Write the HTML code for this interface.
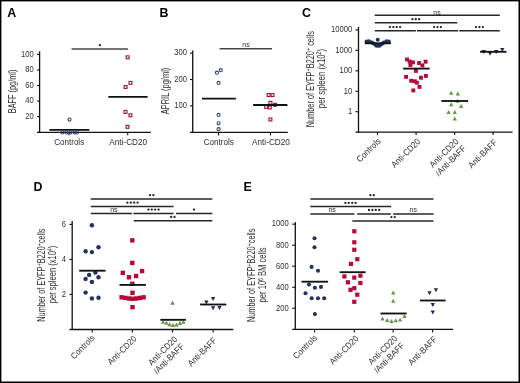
<!DOCTYPE html>
<html><head><meta charset="utf-8"><title>Figure</title>
<style>
html,body{margin:0;padding:0;background:#fff;}
svg{display:block;will-change:transform;}
text{font-family:"Liberation Sans",sans-serif;}
</style></head>
<body>
<svg width="520" height="383" viewBox="0 0 520 383">
<rect x="0" y="0" width="520" height="383" fill="#000"/>
<rect x="1.4" y="1.4" width="517.1" height="380.1" fill="#fff"/>
<text x="7.2" y="16.8" font-size="12.4" text-anchor="start" fill="#000" font-weight="bold">A</text>
<text x="159.6" y="16.7" font-size="12.4" text-anchor="start" fill="#000" font-weight="bold">B</text>
<text x="302.0" y="16.7" font-size="12.4" text-anchor="start" fill="#000" font-weight="bold">C</text>
<text x="33.5" y="191.1" font-size="12.4" text-anchor="start" fill="#000" font-weight="bold">D</text>
<text x="243.4" y="191.1" font-size="12.4" text-anchor="start" fill="#000" font-weight="bold">E</text>
<line x1="39.6" y1="51.3" x2="39.6" y2="132.9" stroke="#111" stroke-width="1.3"/>
<line x1="37.0" y1="132.3" x2="150.8" y2="132.3" stroke="#111" stroke-width="1.3"/>
<line x1="37.0" y1="116.65" x2="39.6" y2="116.65" stroke="#111" stroke-width="1.1"/>
<text x="33.8" y="118.95" font-size="8.6" text-anchor="end" fill="#303030" font-weight="normal" textLength="8.50" lengthAdjust="spacingAndGlyphs">20</text>
<line x1="37.0" y1="101.10" x2="39.6" y2="101.10" stroke="#111" stroke-width="1.1"/>
<text x="33.8" y="103.40" font-size="8.6" text-anchor="end" fill="#303030" font-weight="normal" textLength="8.50" lengthAdjust="spacingAndGlyphs">40</text>
<line x1="37.0" y1="85.54" x2="39.6" y2="85.54" stroke="#111" stroke-width="1.1"/>
<text x="33.8" y="87.84" font-size="8.6" text-anchor="end" fill="#303030" font-weight="normal" textLength="8.50" lengthAdjust="spacingAndGlyphs">60</text>
<line x1="37.0" y1="69.99" x2="39.6" y2="69.99" stroke="#111" stroke-width="1.1"/>
<text x="33.8" y="72.29" font-size="8.6" text-anchor="end" fill="#303030" font-weight="normal" textLength="8.50" lengthAdjust="spacingAndGlyphs">80</text>
<line x1="37.0" y1="54.44" x2="39.6" y2="54.44" stroke="#111" stroke-width="1.1"/>
<text x="33.8" y="56.74" font-size="8.6" text-anchor="end" fill="#303030" font-weight="normal" textLength="12.75" lengthAdjust="spacingAndGlyphs">100</text>
<line x1="68.9" y1="132.3" x2="68.9" y2="135.3" stroke="#111" stroke-width="1.1"/>
<line x1="127.7" y1="132.3" x2="127.7" y2="135.3" stroke="#111" stroke-width="1.1"/>
<text transform="translate(15.6,91.4) rotate(-90)" x="0" y="0" font-size="10.2" text-anchor="middle" fill="#2e2e2e" textLength="43.5" lengthAdjust="spacingAndGlyphs">BAFF (pg/ml)</text>
<text x="69.2" y="144.9" font-size="8.8" text-anchor="middle" fill="#2e2e2e" font-weight="normal" textLength="30" lengthAdjust="spacingAndGlyphs">Controls</text>
<text x="128.2" y="145.1" font-size="8.8" text-anchor="middle" fill="#2e2e2e" font-weight="normal" textLength="37.9" lengthAdjust="spacingAndGlyphs">Anti-CD20</text>
<line x1="71.6" y1="49.1" x2="128.0" y2="49.1" stroke="#484848" stroke-width="1.5"/>
<circle cx="99.90" cy="45.2" r="1.15" fill="#222"/>
<line x1="49.4" y1="129.8" x2="89.4" y2="129.8" stroke="#111" stroke-width="1.85"/>
<line x1="108.3" y1="96.8" x2="147.6" y2="96.8" stroke="#111" stroke-width="1.85"/>
<circle cx="69.5" cy="119.6" r="1.55" fill="none" stroke="#2a4170" stroke-width="1.05"/>
<circle cx="62.3" cy="132.4" r="1.55" fill="none" stroke="#2a4170" stroke-width="1.05"/>
<circle cx="66.4" cy="132.4" r="1.55" fill="none" stroke="#2a4170" stroke-width="1.05"/>
<circle cx="70.5" cy="132.4" r="1.55" fill="none" stroke="#2a4170" stroke-width="1.05"/>
<circle cx="74.6" cy="132.4" r="1.55" fill="none" stroke="#2a4170" stroke-width="1.05"/>
<circle cx="77.0" cy="132.4" r="1.55" fill="none" stroke="#2a4170" stroke-width="1.05"/>
<rect x="126.15" y="55.85" width="2.9" height="2.9" fill="none" stroke="#951847" stroke-width="1.15"/>
<rect x="129.05" y="81.45" width="2.9" height="2.9" fill="none" stroke="#951847" stroke-width="1.15"/>
<rect x="124.15" y="85.55" width="2.9" height="2.9" fill="none" stroke="#951847" stroke-width="1.15"/>
<rect x="124.05" y="110.45" width="2.9" height="2.9" fill="none" stroke="#951847" stroke-width="1.15"/>
<rect x="128.95" y="113.85" width="2.9" height="2.9" fill="none" stroke="#951847" stroke-width="1.15"/>
<rect x="126.05" y="125.35" width="2.9" height="2.9" fill="none" stroke="#951847" stroke-width="1.15"/>
<line x1="192.7" y1="50.4" x2="192.7" y2="133.0" stroke="#111" stroke-width="1.3"/>
<line x1="190.0" y1="132.4" x2="287.8" y2="132.4" stroke="#111" stroke-width="1.3"/>
<line x1="190.0" y1="105.85" x2="192.7" y2="105.85" stroke="#111" stroke-width="1.1"/>
<text x="187.0" y="108.15" font-size="8.6" text-anchor="end" fill="#303030" font-weight="normal" textLength="12.75" lengthAdjust="spacingAndGlyphs">100</text>
<line x1="190.0" y1="79.50" x2="192.7" y2="79.50" stroke="#111" stroke-width="1.1"/>
<text x="187.0" y="81.80" font-size="8.6" text-anchor="end" fill="#303030" font-weight="normal" textLength="12.75" lengthAdjust="spacingAndGlyphs">200</text>
<line x1="190.0" y1="53.15" x2="192.7" y2="53.15" stroke="#111" stroke-width="1.1"/>
<text x="187.0" y="55.45" font-size="8.6" text-anchor="end" fill="#303030" font-weight="normal" textLength="12.75" lengthAdjust="spacingAndGlyphs">300</text>
<line x1="218.6" y1="132.4" x2="218.6" y2="135.4" stroke="#111" stroke-width="1.1"/>
<line x1="270.5" y1="132.4" x2="270.5" y2="135.4" stroke="#111" stroke-width="1.1"/>
<text transform="translate(169.0,91.0) rotate(-90)" x="0" y="0" font-size="10.2" text-anchor="middle" fill="#2e2e2e" textLength="46.6" lengthAdjust="spacingAndGlyphs">APRIL (pg/ml)</text>
<text x="218.8" y="144.7" font-size="8.8" text-anchor="middle" fill="#2e2e2e" font-weight="normal" textLength="30" lengthAdjust="spacingAndGlyphs">Controls</text>
<text x="271.0" y="144.9" font-size="8.8" text-anchor="middle" fill="#2e2e2e" font-weight="normal" textLength="37.9" lengthAdjust="spacingAndGlyphs">Anti-CD20</text>
<line x1="219.5" y1="48.8" x2="272.0" y2="48.8" stroke="#484848" stroke-width="1.5"/>
<text x="246.0" y="46.6" font-size="7" text-anchor="middle" fill="#2e2e2e" font-weight="normal">ns</text>
<circle cx="216.9" cy="72.7" r="1.55" fill="none" stroke="#2a4170" stroke-width="1.05"/>
<circle cx="220.8" cy="70.2" r="1.55" fill="none" stroke="#2a4170" stroke-width="1.05"/>
<circle cx="218.6" cy="82.9" r="1.55" fill="none" stroke="#2a4170" stroke-width="1.05"/>
<circle cx="218.6" cy="114.9" r="1.55" fill="none" stroke="#2a4170" stroke-width="1.05"/>
<circle cx="218.6" cy="123.3" r="1.55" fill="none" stroke="#2a4170" stroke-width="1.05"/>
<circle cx="218.6" cy="129.2" r="1.55" fill="none" stroke="#2a4170" stroke-width="1.05"/>
<rect x="267.15" y="93.65" width="2.9" height="2.9" fill="none" stroke="#951847" stroke-width="1.15"/>
<rect x="271.05" y="93.65" width="2.9" height="2.9" fill="none" stroke="#951847" stroke-width="1.15"/>
<rect x="268.95" y="101.35" width="2.9" height="2.9" fill="none" stroke="#951847" stroke-width="1.15"/>
<rect x="273.55" y="103.35" width="2.9" height="2.9" fill="none" stroke="#951847" stroke-width="1.15"/>
<rect x="264.75" y="105.45" width="2.9" height="2.9" fill="none" stroke="#951847" stroke-width="1.15"/>
<rect x="268.35" y="106.05" width="2.9" height="2.9" fill="none" stroke="#951847" stroke-width="1.15"/>
<rect x="268.95" y="118.05" width="2.9" height="2.9" fill="none" stroke="#951847" stroke-width="1.15"/>
<line x1="202.0" y1="98.6" x2="235.9" y2="98.6" stroke="#111" stroke-width="1.85"/>
<line x1="253.1" y1="105.0" x2="287.4" y2="105.0" stroke="#111" stroke-width="1.85"/>
<line x1="358.5" y1="26.8" x2="358.5" y2="132.7" stroke="#111" stroke-width="1.3"/>
<line x1="355.5" y1="132.1" x2="512.6" y2="132.1" stroke="#111" stroke-width="1.3"/>
<line x1="355.4" y1="111.7" x2="358.5" y2="111.7" stroke="#111" stroke-width="1.1"/>
<text x="352.2" y="114.0" font-size="8.6" text-anchor="end" fill="#303030" font-weight="normal" textLength="4.25" lengthAdjust="spacingAndGlyphs">1</text>
<line x1="355.4" y1="91.25" x2="358.5" y2="91.25" stroke="#111" stroke-width="1.1"/>
<text x="352.2" y="93.55" font-size="8.6" text-anchor="end" fill="#303030" font-weight="normal" textLength="8.50" lengthAdjust="spacingAndGlyphs">10</text>
<line x1="355.4" y1="70.80" x2="358.5" y2="70.80" stroke="#111" stroke-width="1.1"/>
<text x="352.2" y="73.10" font-size="8.6" text-anchor="end" fill="#303030" font-weight="normal" textLength="12.75" lengthAdjust="spacingAndGlyphs">100</text>
<line x1="355.4" y1="50.35" x2="358.5" y2="50.35" stroke="#111" stroke-width="1.1"/>
<text x="352.2" y="52.65" font-size="8.6" text-anchor="end" fill="#303030" font-weight="normal" textLength="17.00" lengthAdjust="spacingAndGlyphs">1000</text>
<line x1="355.4" y1="29.90" x2="358.5" y2="29.90" stroke="#111" stroke-width="1.1"/>
<text x="352.2" y="32.2" font-size="8.6" text-anchor="end" fill="#303030" font-weight="normal" textLength="21.25" lengthAdjust="spacingAndGlyphs">10000</text>
<line x1="377.5" y1="132.1" x2="377.5" y2="135.1" stroke="#111" stroke-width="1.1"/>
<line x1="416.1" y1="132.1" x2="416.1" y2="135.1" stroke="#111" stroke-width="1.1"/>
<line x1="454.6" y1="132.1" x2="454.6" y2="135.1" stroke="#111" stroke-width="1.1"/>
<line x1="493.1" y1="132.1" x2="493.1" y2="135.1" stroke="#111" stroke-width="1.1"/>
<text transform="translate(313.6,79.2) rotate(-90)" x="0" y="0" font-size="10" text-anchor="middle" fill="#2e2e2e" textLength="96.3" lengthAdjust="spacingAndGlyphs">Number of EYFP<tspan font-size="7.5" dy="-3.0">+</tspan><tspan dy="3.0">B220</tspan><tspan font-size="7.5" dy="-3.0">+</tspan><tspan dy="3.0"> cells</tspan></text>
<text transform="translate(324.6,78.6) rotate(-90)" x="0" y="0" font-size="10" text-anchor="middle" fill="#2e2e2e" textLength="59.2" lengthAdjust="spacingAndGlyphs">per spleen (x10<tspan font-size="6.5" dy="-3.3">2</tspan><tspan dy="3.3">)</tspan></text>
<line x1="374.7" y1="15.2" x2="499.8" y2="15.2" stroke="#262626" stroke-width="1.5"/>
<text x="437.0" y="14.5" font-size="7" text-anchor="middle" fill="#2e2e2e" font-weight="normal">ns</text>
<line x1="374.7" y1="22.8" x2="457.3" y2="22.8" stroke="#262626" stroke-width="1.5"/>
<circle cx="412.40" cy="19.2" r="1.15" fill="#222"/>
<circle cx="415.80" cy="19.2" r="1.15" fill="#222"/>
<circle cx="419.20" cy="19.2" r="1.15" fill="#222"/>
<line x1="374.7" y1="30.7" x2="415.9" y2="30.7" stroke="#262626" stroke-width="1.5"/>
<line x1="416.9" y1="30.7" x2="458.0" y2="30.7" stroke="#262626" stroke-width="1.5"/>
<line x1="459.2" y1="30.7" x2="499.8" y2="30.7" stroke="#262626" stroke-width="1.5"/>
<circle cx="389.90" cy="27.1" r="1.15" fill="#222"/>
<circle cx="393.30" cy="27.1" r="1.15" fill="#222"/>
<circle cx="396.70" cy="27.1" r="1.15" fill="#222"/>
<circle cx="400.10" cy="27.1" r="1.15" fill="#222"/>
<circle cx="434.10" cy="27.1" r="1.15" fill="#222"/>
<circle cx="437.50" cy="27.1" r="1.15" fill="#222"/>
<circle cx="440.90" cy="27.1" r="1.15" fill="#222"/>
<circle cx="476.00" cy="27.1" r="1.15" fill="#222"/>
<circle cx="479.40" cy="27.1" r="1.15" fill="#222"/>
<circle cx="482.80" cy="27.1" r="1.15" fill="#222"/>
<circle cx="377.7" cy="39.7" r="2.0" fill="#22325a"/>
<circle cx="366.6" cy="41.4" r="2.0" fill="#22325a"/>
<circle cx="368.8" cy="41.2" r="2.0" fill="#22325a"/>
<circle cx="371.2" cy="42.2" r="2.0" fill="#22325a"/>
<circle cx="373.2" cy="43.2" r="2.0" fill="#22325a"/>
<circle cx="384.0" cy="42.4" r="2.0" fill="#22325a"/>
<circle cx="386.4" cy="41.3" r="2.0" fill="#22325a"/>
<circle cx="388.8" cy="41.4" r="2.0" fill="#22325a"/>
<circle cx="375.0" cy="44.4" r="2.0" fill="#22325a"/>
<circle cx="378.0" cy="45.4" r="2.0" fill="#22325a"/>
<circle cx="381.0" cy="44.4" r="2.0" fill="#22325a"/>
<circle cx="376.5" cy="45.7" r="2.0" fill="#22325a"/>
<circle cx="379.5" cy="45.7" r="2.0" fill="#22325a"/>
<circle cx="382.6" cy="43.4" r="2.0" fill="#22325a"/>
<line x1="364.8" y1="43.3" x2="390.9" y2="43.3" stroke="#111" stroke-width="1.85"/>
<rect x="405.05" y="57.55" width="3.9" height="3.9" fill="#b50a37"/>
<rect x="407.65" y="59.55" width="3.9" height="3.9" fill="#b50a37"/>
<rect x="411.05" y="60.45" width="3.9" height="3.9" fill="#b50a37"/>
<rect x="408.45" y="63.05" width="3.9" height="3.9" fill="#b50a37"/>
<rect x="417.15" y="61.05" width="3.9" height="3.9" fill="#b50a37"/>
<rect x="420.45" y="63.45" width="3.9" height="3.9" fill="#b50a37"/>
<rect x="423.65" y="59.75" width="3.9" height="3.9" fill="#b50a37"/>
<rect x="413.95" y="68.95" width="3.9" height="3.9" fill="#b50a37"/>
<rect x="404.15" y="74.95" width="3.9" height="3.9" fill="#b50a37"/>
<rect x="409.25" y="78.85" width="3.9" height="3.9" fill="#b50a37"/>
<rect x="412.95" y="79.35" width="3.9" height="3.9" fill="#b50a37"/>
<rect x="419.05" y="75.75" width="3.9" height="3.9" fill="#b50a37"/>
<rect x="423.95" y="73.95" width="3.9" height="3.9" fill="#b50a37"/>
<rect x="414.95" y="80.75" width="3.9" height="3.9" fill="#b50a37"/>
<rect x="417.55" y="84.95" width="3.9" height="3.9" fill="#b50a37"/>
<rect x="411.35" y="88.45" width="3.9" height="3.9" fill="#b50a37"/>
<line x1="403.1" y1="68.6" x2="429.6" y2="68.6" stroke="#111" stroke-width="1.85"/>
<polygon points="449.05,94.80 453.35,94.80 451.20,90.80" fill="#66964a"/>
<polygon points="455.65,95.40 459.95,95.40 457.80,91.40" fill="#66964a"/>
<polygon points="455.35,102.70 459.65,102.70 457.50,98.70" fill="#66964a"/>
<polygon points="449.05,106.30 453.35,106.30 451.20,102.30" fill="#66964a"/>
<polygon points="458.95,107.90 463.25,107.90 461.10,103.90" fill="#66964a"/>
<polygon points="446.45,113.90 450.75,113.90 448.60,109.90" fill="#66964a"/>
<polygon points="452.65,113.90 456.95,113.90 454.80,109.90" fill="#66964a"/>
<polygon points="452.65,120.40 456.95,120.40 454.80,116.40" fill="#66964a"/>
<line x1="441.3" y1="101.0" x2="468.2" y2="101.0" stroke="#111" stroke-width="1.85"/>
<polygon points="481.65,49.90 485.95,49.90 483.80,53.90" fill="#30234a"/>
<polygon points="487.85,51.80 492.15,51.80 490.00,55.80" fill="#30234a"/>
<polygon points="494.05,49.90 498.35,49.90 496.20,53.90" fill="#30234a"/>
<polygon points="500.15,47.90 504.45,47.90 502.30,51.90" fill="#30234a"/>
<line x1="480.0" y1="51.8" x2="506.5" y2="51.8" stroke="#111" stroke-width="1.85"/>
<text transform="translate(381.30,141.60) rotate(-45)" x="0" y="0" font-size="8.8" text-anchor="end" fill="#2e2e2e" textLength="30" lengthAdjust="spacingAndGlyphs">Controls</text>
<text transform="translate(420.80,142.10) rotate(-45)" x="0" y="0" font-size="8.8" text-anchor="end" fill="#2e2e2e" textLength="36.8" lengthAdjust="spacingAndGlyphs">Anti-CD20</text>
<text transform="translate(459.10,142.10) rotate(-45)" x="0" y="0" font-size="8.8" text-anchor="end" fill="#2e2e2e" textLength="36.8" lengthAdjust="spacingAndGlyphs">Anti-CD20</text>
<text transform="translate(466.40,149.10) rotate(-45)" x="0" y="0" font-size="8.8" text-anchor="end" fill="#2e2e2e" textLength="38.6" lengthAdjust="spacingAndGlyphs">/Anti-BAFF</text>
<text transform="translate(497.60,143.10) rotate(-45)" x="0" y="0" font-size="8.8" text-anchor="end" fill="#2e2e2e" textLength="36.4" lengthAdjust="spacingAndGlyphs">Anti-BAFF</text>
<line x1="72.2" y1="221.0" x2="72.2" y2="330.1" stroke="#111" stroke-width="1.3"/>
<line x1="69.4" y1="329.5" x2="233.3" y2="329.5" stroke="#111" stroke-width="1.3"/>
<line x1="69.4" y1="294.4" x2="72.2" y2="294.4" stroke="#111" stroke-width="1.1"/>
<text x="66.0" y="296.7" font-size="8.6" text-anchor="end" fill="#303030" font-weight="normal" textLength="4.25" lengthAdjust="spacingAndGlyphs">2</text>
<line x1="69.4" y1="259.4" x2="72.2" y2="259.4" stroke="#111" stroke-width="1.1"/>
<text x="66.0" y="261.7" font-size="8.6" text-anchor="end" fill="#303030" font-weight="normal" textLength="4.25" lengthAdjust="spacingAndGlyphs">4</text>
<line x1="69.4" y1="224.40" x2="72.2" y2="224.40" stroke="#111" stroke-width="1.1"/>
<text x="66.0" y="226.7" font-size="8.6" text-anchor="end" fill="#303030" font-weight="normal" textLength="4.25" lengthAdjust="spacingAndGlyphs">6</text>
<line x1="92.2" y1="329.5" x2="92.2" y2="332.5" stroke="#111" stroke-width="1.1"/>
<line x1="132.4" y1="329.5" x2="132.4" y2="332.5" stroke="#111" stroke-width="1.1"/>
<line x1="172.5" y1="329.5" x2="172.5" y2="332.5" stroke="#111" stroke-width="1.1"/>
<line x1="213.1" y1="329.5" x2="213.1" y2="332.5" stroke="#111" stroke-width="1.1"/>
<text transform="translate(44.9,275.1) rotate(-90)" x="0" y="0" font-size="10" text-anchor="middle" fill="#2e2e2e" textLength="93.2" lengthAdjust="spacingAndGlyphs">Number of EYFP<tspan font-size="7.5" dy="-3.0">+</tspan><tspan dy="3.0">B220</tspan><tspan font-size="7.5" dy="-3.0">+</tspan><tspan dy="3.0">cells</tspan></text>
<text transform="translate(55.6,274.5) rotate(-90)" x="0" y="0" font-size="10" text-anchor="middle" fill="#2e2e2e" textLength="57.5" lengthAdjust="spacingAndGlyphs">per spleen (x10<tspan font-size="6.5" dy="-3.3">4</tspan><tspan dy="3.3">)</tspan></text>
<line x1="90.8" y1="199.0" x2="212.3" y2="199.0" stroke="#262626" stroke-width="1.5"/>
<circle cx="150.00" cy="195.2" r="1.15" fill="#222"/>
<circle cx="153.40" cy="195.2" r="1.15" fill="#222"/>
<line x1="90.8" y1="206.4" x2="173.5" y2="206.4" stroke="#262626" stroke-width="1.5"/>
<circle cx="127.40" cy="202.7" r="1.15" fill="#222"/>
<circle cx="130.80" cy="202.7" r="1.15" fill="#222"/>
<circle cx="134.20" cy="202.7" r="1.15" fill="#222"/>
<circle cx="137.60" cy="202.7" r="1.15" fill="#222"/>
<line x1="90.8" y1="213.5" x2="131.9" y2="213.5" stroke="#262626" stroke-width="1.5"/>
<text x="113.9" y="211.8" font-size="7" text-anchor="middle" fill="#2e2e2e" font-weight="normal">ns</text>
<line x1="133.3" y1="213.5" x2="173.5" y2="213.5" stroke="#262626" stroke-width="1.5"/>
<circle cx="148.40" cy="209.6" r="1.15" fill="#222"/>
<circle cx="151.80" cy="209.6" r="1.15" fill="#222"/>
<circle cx="155.20" cy="209.6" r="1.15" fill="#222"/>
<circle cx="158.60" cy="209.6" r="1.15" fill="#222"/>
<line x1="176.0" y1="213.5" x2="212.3" y2="213.5" stroke="#262626" stroke-width="1.5"/>
<circle cx="194.00" cy="209.6" r="1.15" fill="#222"/>
<line x1="133.8" y1="220.8" x2="212.3" y2="220.8" stroke="#262626" stroke-width="1.5"/>
<circle cx="171.10" cy="216.9" r="1.15" fill="#222"/>
<circle cx="174.50" cy="216.9" r="1.15" fill="#222"/>
<circle cx="91.9" cy="225.3" r="2.2" fill="#22325a"/>
<circle cx="85.6" cy="251.2" r="2.2" fill="#22325a"/>
<circle cx="91.9" cy="252.1" r="2.2" fill="#22325a"/>
<circle cx="98.5" cy="247.2" r="2.2" fill="#22325a"/>
<circle cx="95.4" cy="272.6" r="2.2" fill="#22325a"/>
<circle cx="89.1" cy="274.9" r="2.2" fill="#22325a"/>
<circle cx="85.6" cy="278.9" r="2.2" fill="#22325a"/>
<circle cx="98.5" cy="277.3" r="2.2" fill="#22325a"/>
<circle cx="91.9" cy="282.0" r="2.2" fill="#22325a"/>
<circle cx="85.6" cy="292.6" r="2.2" fill="#22325a"/>
<circle cx="91.9" cy="298.4" r="2.2" fill="#22325a"/>
<circle cx="98.5" cy="297.7" r="2.2" fill="#22325a"/>
<line x1="79.2" y1="270.7" x2="105.6" y2="270.7" stroke="#111" stroke-width="1.85"/>
<rect x="130.10" y="238.20" width="4.4" height="4.4" fill="#b50a37"/>
<rect x="130.10" y="260.70" width="4.4" height="4.4" fill="#b50a37"/>
<rect x="120.60" y="270.70" width="4.4" height="4.4" fill="#b50a37"/>
<rect x="126.80" y="275.10" width="4.4" height="4.4" fill="#b50a37"/>
<rect x="133.90" y="273.80" width="4.4" height="4.4" fill="#b50a37"/>
<rect x="139.90" y="268.90" width="4.4" height="4.4" fill="#b50a37"/>
<rect x="130.10" y="281.60" width="4.4" height="4.4" fill="#b50a37"/>
<rect x="130.30" y="290.60" width="4.4" height="4.4" fill="#b50a37"/>
<rect x="119.40" y="295.10" width="4.4" height="4.4" fill="#b50a37"/>
<rect x="123.10" y="295.70" width="4.4" height="4.4" fill="#b50a37"/>
<rect x="126.80" y="296.30" width="4.4" height="4.4" fill="#b50a37"/>
<rect x="130.40" y="296.60" width="4.4" height="4.4" fill="#b50a37"/>
<rect x="134.00" y="296.30" width="4.4" height="4.4" fill="#b50a37"/>
<rect x="137.70" y="295.70" width="4.4" height="4.4" fill="#b50a37"/>
<rect x="141.40" y="295.10" width="4.4" height="4.4" fill="#b50a37"/>
<rect x="130.30" y="305.00" width="4.4" height="4.4" fill="#b50a37"/>
<line x1="119.5" y1="284.9" x2="145.9" y2="284.9" stroke="#111" stroke-width="1.85"/>
<polygon points="170.30,304.65 174.70,304.65 172.50,300.55" fill="#66964a"/>
<polygon points="160.80,323.85 165.20,323.85 163.00,319.75" fill="#66964a"/>
<polygon points="164.30,324.85 168.70,324.85 166.50,320.75" fill="#66964a"/>
<polygon points="167.40,326.25 171.80,326.25 169.60,322.15" fill="#66964a"/>
<polygon points="170.80,327.05 175.20,327.05 173.00,322.95" fill="#66964a"/>
<polygon points="174.30,326.55 178.70,326.55 176.50,322.45" fill="#66964a"/>
<polygon points="177.80,324.95 182.20,324.95 180.00,320.85" fill="#66964a"/>
<polygon points="181.20,323.85 185.60,323.85 183.40,319.75" fill="#66964a"/>
<line x1="160.3" y1="319.8" x2="185.9" y2="319.8" stroke="#111" stroke-width="1.85"/>
<polygon points="204.25,300.40 208.55,300.40 206.40,304.40" fill="#30234a"/>
<polygon points="210.95,297.00 215.25,297.00 213.10,301.00" fill="#30234a"/>
<polygon points="210.95,306.20 215.25,306.20 213.10,310.20" fill="#30234a"/>
<polygon points="217.35,306.00 221.65,306.00 219.50,310.00" fill="#30234a"/>
<line x1="200.1" y1="304.5" x2="226.3" y2="304.5" stroke="#111" stroke-width="1.85"/>
<text transform="translate(95.40,338.50) rotate(-45)" x="0" y="0" font-size="8.8" text-anchor="end" fill="#2e2e2e" textLength="30" lengthAdjust="spacingAndGlyphs">Controls</text>
<text transform="translate(137.10,339.30) rotate(-45)" x="0" y="0" font-size="8.8" text-anchor="end" fill="#2e2e2e" textLength="36.8" lengthAdjust="spacingAndGlyphs">Anti-CD20</text>
<text transform="translate(177.80,339.90) rotate(-45)" x="0" y="0" font-size="8.8" text-anchor="end" fill="#2e2e2e" textLength="36.8" lengthAdjust="spacingAndGlyphs">Anti-CD20</text>
<text transform="translate(184.60,347.10) rotate(-45)" x="0" y="0" font-size="8.8" text-anchor="end" fill="#2e2e2e" textLength="38.6" lengthAdjust="spacingAndGlyphs">/Anti-BAFF</text>
<text transform="translate(217.10,341.10) rotate(-45)" x="0" y="0" font-size="8.8" text-anchor="end" fill="#2e2e2e" textLength="36.4" lengthAdjust="spacingAndGlyphs">Anti-BAFF</text>
<line x1="295.3" y1="222.0" x2="295.3" y2="330.0" stroke="#111" stroke-width="1.3"/>
<line x1="292.2" y1="329.4" x2="453.1" y2="329.4" stroke="#111" stroke-width="1.3"/>
<line x1="292.2" y1="308.27" x2="295.3" y2="308.27" stroke="#111" stroke-width="1.1"/>
<text x="288.8" y="310.57" font-size="8.6" text-anchor="end" fill="#303030" font-weight="normal" textLength="12.75" lengthAdjust="spacingAndGlyphs">200</text>
<line x1="292.2" y1="287.25" x2="295.3" y2="287.25" stroke="#111" stroke-width="1.1"/>
<text x="288.8" y="289.55" font-size="8.6" text-anchor="end" fill="#303030" font-weight="normal" textLength="12.75" lengthAdjust="spacingAndGlyphs">400</text>
<line x1="292.2" y1="266.22" x2="295.3" y2="266.22" stroke="#111" stroke-width="1.1"/>
<text x="288.8" y="268.52" font-size="8.6" text-anchor="end" fill="#303030" font-weight="normal" textLength="12.75" lengthAdjust="spacingAndGlyphs">600</text>
<line x1="292.2" y1="245.20" x2="295.3" y2="245.20" stroke="#111" stroke-width="1.1"/>
<text x="288.8" y="247.50" font-size="8.6" text-anchor="end" fill="#303030" font-weight="normal" textLength="12.75" lengthAdjust="spacingAndGlyphs">800</text>
<line x1="292.2" y1="224.17" x2="295.3" y2="224.17" stroke="#111" stroke-width="1.1"/>
<text x="288.8" y="226.47" font-size="8.6" text-anchor="end" fill="#303030" font-weight="normal" textLength="17.00" lengthAdjust="spacingAndGlyphs">1000</text>
<line x1="314.6" y1="329.4" x2="314.6" y2="332.4" stroke="#111" stroke-width="1.1"/>
<line x1="354.3" y1="329.4" x2="354.3" y2="332.4" stroke="#111" stroke-width="1.1"/>
<line x1="393.2" y1="329.4" x2="393.2" y2="332.4" stroke="#111" stroke-width="1.1"/>
<line x1="432.6" y1="329.4" x2="432.6" y2="332.4" stroke="#111" stroke-width="1.1"/>
<text transform="translate(255.0,275.3) rotate(-90)" x="0" y="0" font-size="10" text-anchor="middle" fill="#2e2e2e" textLength="93.4" lengthAdjust="spacingAndGlyphs">Number of EYFP<tspan font-size="7.5" dy="-3.0">+</tspan><tspan dy="3.0">B220</tspan><tspan font-size="7.5" dy="-3.0">+</tspan><tspan dy="3.0">cells</tspan></text>
<text transform="translate(266.0,274.9) rotate(-90)" x="0" y="0" font-size="10" text-anchor="middle" fill="#2e2e2e" textLength="55" lengthAdjust="spacingAndGlyphs">per 10<tspan font-size="6.5" dy="-3.3">6</tspan><tspan dy="3.3"> BM cells</tspan></text>
<line x1="310.3" y1="199.0" x2="433.5" y2="199.0" stroke="#262626" stroke-width="1.5"/>
<circle cx="370.40" cy="195.2" r="1.15" fill="#222"/>
<circle cx="373.80" cy="195.2" r="1.15" fill="#222"/>
<line x1="310.3" y1="206.6" x2="391.2" y2="206.6" stroke="#262626" stroke-width="1.5"/>
<circle cx="345.40" cy="202.9" r="1.15" fill="#222"/>
<circle cx="348.80" cy="202.9" r="1.15" fill="#222"/>
<circle cx="352.20" cy="202.9" r="1.15" fill="#222"/>
<circle cx="355.60" cy="202.9" r="1.15" fill="#222"/>
<line x1="310.3" y1="213.9" x2="354.4" y2="213.9" stroke="#262626" stroke-width="1.5"/>
<text x="332.1" y="212.0" font-size="7" text-anchor="middle" fill="#2e2e2e" font-weight="normal">ns</text>
<line x1="357.2" y1="213.9" x2="390.9" y2="213.9" stroke="#262626" stroke-width="1.5"/>
<circle cx="369.00" cy="210.0" r="1.15" fill="#222"/>
<circle cx="372.40" cy="210.0" r="1.15" fill="#222"/>
<circle cx="375.80" cy="210.0" r="1.15" fill="#222"/>
<circle cx="379.20" cy="210.0" r="1.15" fill="#222"/>
<line x1="393.1" y1="213.9" x2="433.5" y2="213.9" stroke="#262626" stroke-width="1.5"/>
<text x="413.3" y="212.1" font-size="7" text-anchor="middle" fill="#2e2e2e" font-weight="normal">ns</text>
<line x1="352.3" y1="221.1" x2="433.5" y2="221.1" stroke="#262626" stroke-width="1.5"/>
<circle cx="391.40" cy="217.1" r="1.15" fill="#222"/>
<circle cx="394.80" cy="217.1" r="1.15" fill="#222"/>
<circle cx="314.5" cy="238.2" r="2.05" fill="#22325a"/>
<circle cx="314.5" cy="247.2" r="2.05" fill="#22325a"/>
<circle cx="311.6" cy="266.9" r="2.05" fill="#22325a"/>
<circle cx="318.0" cy="270.7" r="2.05" fill="#22325a"/>
<circle cx="309.0" cy="284.5" r="2.05" fill="#22325a"/>
<circle cx="314.9" cy="287.7" r="2.05" fill="#22325a"/>
<circle cx="321.0" cy="286.9" r="2.05" fill="#22325a"/>
<circle cx="305.5" cy="293.2" r="2.05" fill="#22325a"/>
<circle cx="311.7" cy="298.3" r="2.05" fill="#22325a"/>
<circle cx="318.0" cy="298.3" r="2.05" fill="#22325a"/>
<circle cx="324.2" cy="298.3" r="2.05" fill="#22325a"/>
<circle cx="314.9" cy="314.1" r="2.05" fill="#22325a"/>
<line x1="301.5" y1="281.7" x2="328.1" y2="281.7" stroke="#111" stroke-width="1.85"/>
<rect x="352.20" y="229.20" width="4.2" height="4.2" fill="#b50a37"/>
<rect x="352.20" y="240.20" width="4.2" height="4.2" fill="#b50a37"/>
<rect x="352.20" y="247.70" width="4.2" height="4.2" fill="#b50a37"/>
<rect x="355.20" y="257.10" width="4.2" height="4.2" fill="#b50a37"/>
<rect x="348.90" y="261.80" width="4.2" height="4.2" fill="#b50a37"/>
<rect x="342.30" y="274.30" width="4.2" height="4.2" fill="#b50a37"/>
<rect x="352.20" y="275.50" width="4.2" height="4.2" fill="#b50a37"/>
<rect x="358.30" y="273.60" width="4.2" height="4.2" fill="#b50a37"/>
<rect x="345.80" y="280.20" width="4.2" height="4.2" fill="#b50a37"/>
<rect x="358.30" y="280.90" width="4.2" height="4.2" fill="#b50a37"/>
<rect x="352.20" y="286.10" width="4.2" height="4.2" fill="#b50a37"/>
<rect x="348.40" y="287.70" width="4.2" height="4.2" fill="#b50a37"/>
<rect x="355.20" y="292.60" width="4.2" height="4.2" fill="#b50a37"/>
<rect x="352.20" y="299.70" width="4.2" height="4.2" fill="#b50a37"/>
<line x1="339.7" y1="272.2" x2="365.6" y2="272.2" stroke="#111" stroke-width="1.85"/>
<polygon points="391.05,294.60 395.35,294.60 393.20,290.60" fill="#66964a"/>
<polygon points="391.05,302.80 395.35,302.80 393.20,298.80" fill="#66964a"/>
<polygon points="402.35,317.90 406.65,317.90 404.50,313.90" fill="#66964a"/>
<polygon points="380.35,320.50 384.65,320.50 382.50,316.50" fill="#66964a"/>
<polygon points="385.05,321.90 389.35,321.90 387.20,317.90" fill="#66964a"/>
<polygon points="389.35,322.90 393.65,322.90 391.50,318.90" fill="#66964a"/>
<polygon points="393.65,322.20 397.95,322.20 395.80,318.20" fill="#66964a"/>
<polygon points="397.95,321.50 402.25,321.50 400.10,317.50" fill="#66964a"/>
<line x1="380.5" y1="313.5" x2="406.6" y2="313.5" stroke="#111" stroke-width="1.85"/>
<polygon points="427.35,291.30 431.65,291.30 429.50,295.30" fill="#30234a"/>
<polygon points="433.75,288.20 438.05,288.20 435.90,292.20" fill="#30234a"/>
<polygon points="430.65,303.00 434.95,303.00 432.80,307.00" fill="#30234a"/>
<polygon points="430.65,310.50 434.95,310.50 432.80,314.50" fill="#30234a"/>
<line x1="420.0" y1="300.5" x2="445.6" y2="300.5" stroke="#111" stroke-width="1.85"/>
<text transform="translate(317.80,338.40) rotate(-45)" x="0" y="0" font-size="8.8" text-anchor="end" fill="#2e2e2e" textLength="30" lengthAdjust="spacingAndGlyphs">Controls</text>
<text transform="translate(359.10,339.10) rotate(-45)" x="0" y="0" font-size="8.8" text-anchor="end" fill="#2e2e2e" textLength="36.8" lengthAdjust="spacingAndGlyphs">Anti-CD20</text>
<text transform="translate(397.80,339.10) rotate(-45)" x="0" y="0" font-size="8.8" text-anchor="end" fill="#2e2e2e" textLength="36.8" lengthAdjust="spacingAndGlyphs">Anti-CD20</text>
<text transform="translate(404.80,346.30) rotate(-45)" x="0" y="0" font-size="8.8" text-anchor="end" fill="#2e2e2e" textLength="38.6" lengthAdjust="spacingAndGlyphs">/Anti-BAFF</text>
<text transform="translate(437.50,339.90) rotate(-45)" x="0" y="0" font-size="8.8" text-anchor="end" fill="#2e2e2e" textLength="36.4" lengthAdjust="spacingAndGlyphs">Anti-BAFF</text>
</svg>
</body></html>
